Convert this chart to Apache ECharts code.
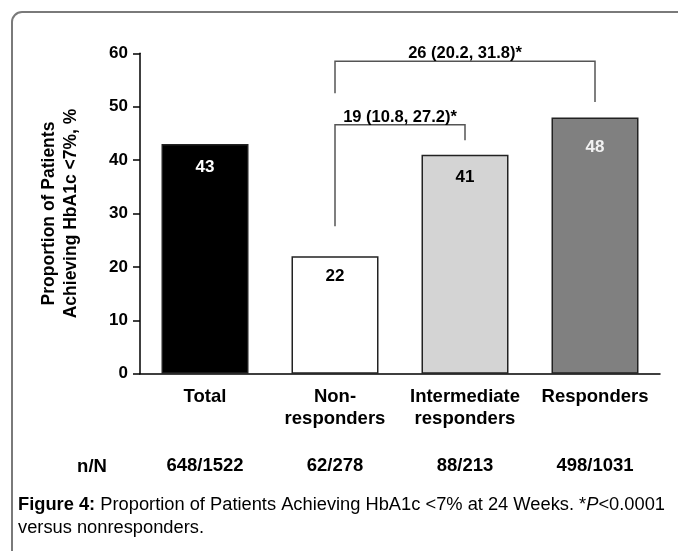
<!DOCTYPE html>
<html>
<head>
<meta charset="utf-8">
<script src="https://cdn.jsdelivr.net/npm/echarts@6/dist/echarts.min.js"></script>
<style>
  html, body { margin: 0; padding: 0; background: #ffffff; }
  #chart { width: 678px; height: 551px; }
</style>
</head>
<body>
<div id="chart"></div>
<script>
// Groups on the x axis
const categories = ['Total', 'Non-\nresponders', 'Intermediate\nresponders', 'Responders'];
// Proportion of patients reaching HbA1c < 7 % (percent)
const proportions = [43, 22, 41, 48];
// n/N counts written under each group
const counts = ['648/1522', '62/278', '88/213', '498/1031'];
// y axis ticks
const yMin = 0, yMax = 60, yStep = 10;

// Comparison brackets against non-responders (category indices, heights in %)
const bracketFrom = [1, 1];
const bracketTo = [2, 3];
const bracketTop = [46.6, 58.5];
const bracketFromEnd = [27.6, 52.5];
const bracketToEnd = [43.7, 50.9];
const bracketText = ['19 (10.8, 27.2)*', '26 (20.2, 31.8)*'];

const barFill = ['#000000', '#ffffff', '#d4d4d4', '#808080'];
const labelFill = ['#ffffff', '#000000', '#000000', '#f2f2f2'];
const labelGap = [15, 12, 14, 21];

const FONT = '"Liberation Sans", Arial, Helvetica, sans-serif';

const chart = echarts.init(document.getElementById('chart'), null, { renderer: 'canvas' });

const option = {
  backgroundColor: '#ffffff',
  animation: false,
  grid: { left: 140, right: 18, top: 53.3, bottom: 177.3, containLabel: false },
  xAxis: [
    {
      type: 'category',
      data: categories,
      axisLine: { lineStyle: { color: '#000', width: 1.5 } },
      axisTick: { alignWithLabel: true, length: 7, lineStyle: { color: '#000', width: 1.5 } },
      axisLabel: {
        color: '#000', fontFamily: FONT, fontWeight: 'bold', fontSize: 18.5,
        lineHeight: 22, margin: 12, interval: 0
      }
    },
    {
      type: 'category',
      data: counts,
      position: 'bottom',
      offset: 80,
      axisLine: { show: false },
      axisTick: { show: false },
      axisLabel: {
        color: '#000', fontFamily: FONT, fontWeight: 'bold', fontSize: 18.5,
        margin: 3, interval: 0
      }
    }
  ],
  yAxis: {
    type: 'value',
    min: yMin, max: yMax, interval: yStep,
    name: 'Proportion of Patients\nAchieving HbA1c <7%, %',
    nameLocation: 'middle',
    nameRotate: 90,
    nameGap: 58,
    nameTextStyle: { color: '#000', fontFamily: FONT, fontWeight: 'bold', fontSize: 17.5, lineHeight: 22 },
    axisLine: { show: true, lineStyle: { color: '#000', width: 1.5 } },
    axisTick: { show: true, length: 7, lineStyle: { color: '#000', width: 1.5 } },
    axisLabel: { color: '#000', fontFamily: FONT, fontWeight: 'bold', fontSize: 17, margin: 12 },
    splitLine: { show: false }
  },
  series: [
    {
      type: 'bar',
      xAxisIndex: 0,
      barWidth: 87,
      data: proportions.map((v, i) => ({
        value: v,
        itemStyle: { color: barFill[i], borderColor: '#222', borderWidth: 1.5 },
        label: { color: labelFill[i], distance: labelGap[i] }
      })),
      label: {
        show: true,
        position: 'insideTop',
        fontFamily: FONT, fontWeight: 'bold', fontSize: 17
      }
    },
    {
      type: 'custom',
      xAxisIndex: 0,
      z: 5,
      encode: { x: [0, 1], y: [2, 3, 4] },
      data: bracketFrom.map((f, i) => [f, bracketTo[i], bracketTop[i], bracketFromEnd[i], bracketToEnd[i]]),
      renderItem: (params, api) => {
        const a = api.coord([api.value(0), api.value(2)]);
        const b = api.coord([api.value(1), api.value(2)]);
        const aEnd = api.coord([api.value(0), api.value(3)]);
        const bEnd = api.coord([api.value(1), api.value(4)]);
        return {
          type: 'group',
          children: [
            {
              type: 'polyline',
              shape: { points: [aEnd, a, b, bEnd] },
              style: { stroke: '#555', lineWidth: 1.5, fill: null }
            },
            {
              type: 'text',
              x: (a[0] + b[0]) / 2,
              y: a[1] - 7.5,
              style: {
                text: bracketText[params.dataIndex],
                font: 'bold 16.5px ' + FONT,
                fill: '#000', align: 'center', verticalAlign: 'middle'
              }
            }
          ]
        };
      }
    }
  ],
  graphic: [
    {
      type: 'rect',
      shape: { x: 12, y: 12, width: 720, height: 620, r: 10 },
      style: { fill: null, stroke: '#7a7a7a', lineWidth: 2 },
      silent: true
    },
    {
      type: 'text',
      x: 92, y: 467,
      style: {
        text: 'n/N', font: 'bold 18.5px ' + FONT, fill: '#000',
        align: 'center', verticalAlign: 'middle'
      }
    },
    {
      type: 'text',
      x: 18, y: 504.5,
      style: {
        text: '{b|Figure 4:} Proportion of Patients Achieving HbA1c <7% at 24 Weeks. *{i|P}<0.0001',
        font: '18.3px ' + FONT, fill: '#000', verticalAlign: 'middle',
        rich: {
          b: { fontFamily: FONT, fontWeight: 'bold', fontSize: 18.3, fill: '#000' },
          i: { fontFamily: FONT, fontStyle: 'italic', fontSize: 18.3, fill: '#000' }
        }
      }
    },
    {
      type: 'text',
      x: 18, y: 527.5,
      style: {
        text: 'versus nonresponders.',
        font: '18.3px ' + FONT, fill: '#000', verticalAlign: 'middle'
      }
    }
  ]
};

chart.setOption(option);
</script>
</body>
</html>
